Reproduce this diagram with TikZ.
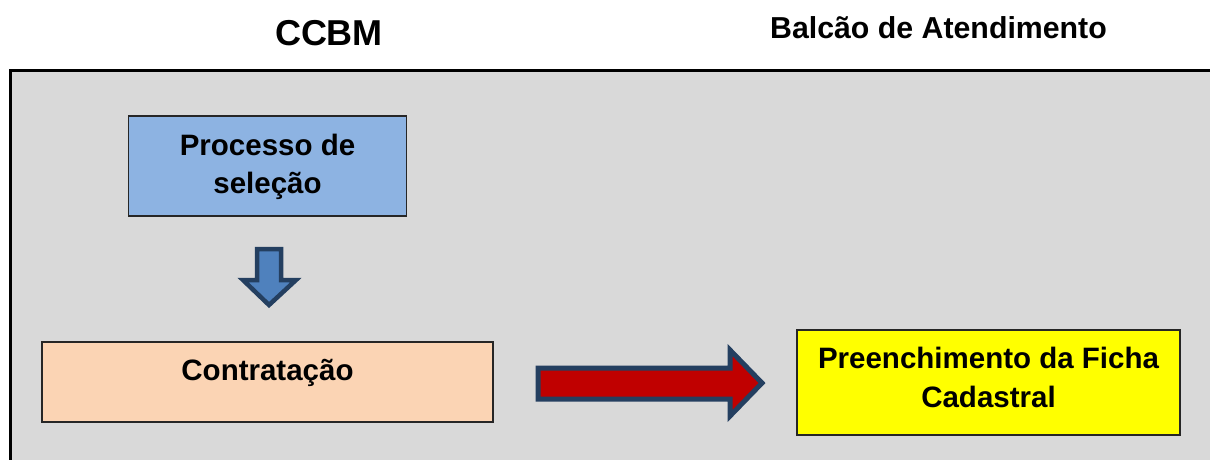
\documentclass[tikz,border=0pt]{standalone}
\usepackage{fontspec}
\setmainfont{Liberation Sans}
\usetikzlibrary{calc}
\definecolor{panelgray}{HTML}{D9D9D9}
\definecolor{selblue}{HTML}{8DB3E2}
\definecolor{peach}{HTML}{FBD4B4}
\definecolor{fichayellow}{HTML}{FFFF00}
\definecolor{arrowblue}{HTML}{4F81BD}
\definecolor{arrowred}{HTML}{C00000}
\definecolor{navy}{HTML}{243F60}
\tikzset{
  stepbox/.style={draw=black!85, line width=1.2pt, rectangle, inner sep=0pt},
  boxtext/.style={font=\fontsize{29.5}{38.5}\selectfont\bfseries, align=center, inner sep=0pt, anchor=base},
  heading/.style={font=\bfseries, inner sep=0pt, anchor=base},
  blockarrow/.style={draw=navy, line join=miter, miter limit=10},
}
\begin{document}
\begin{tikzpicture}[x=1pt, y=-1pt]
  \useasboundingbox[fill=white] (0,0) rectangle (1210,459);

  % column headings
  \node[heading, font=\fontsize{36}{40}\selectfont\bfseries] (hccbm) at (329,45) {CCBM};
  \node[heading, font=\fontsize{30.3}{34}\selectfont\bfseries] (hbalcao) at (938.5,38.5) {Balcão de Atendimento};

  % gray panel (runs off the right and bottom edges)
  \begin{scope}
    \clip (0,0) rectangle (1210,459);
    \draw[fill=panelgray, line width=2.4pt] (10.5,470) -- (10.5,70.5) -- (1220,70.5) -- (1220,470) -- cycle;
  \end{scope}

  % process boxes
  \node[stepbox, fill=selblue, minimum width=278pt, minimum height=100pt] (proc) at (267.5,166) {};
  \node[stepbox, fill=peach, minimum width=451pt, minimum height=80pt] (contr) at (267.5,382) {};
  \node[stepbox, fill=fichayellow, minimum width=383pt, minimum height=105pt] (ficha) at (988.5,382.5) {};

  % box labels (base anchor sits on the last line)
  \node[boxtext] (proctxt) at (267.5,193.5) {Processo de\\seleção};
  \node[boxtext] (contrtxt) at (267.5,380) {Contratação};
  \node[boxtext] (fichatxt) at (988.5,407) {Preenchimento da Ficha\\Cadastral};

  % block arrows
  \coordinate (dtop) at (269,249);
  \coordinate (dtip) at (269,305);
  \draw[blockarrow, fill=arrowblue, line width=4.5pt]
    ($(dtop)+(-12,0)$) -- ($(dtop)+(12,0)$) -- ($(dtop)+(12,31)$) -- ($(dtop)+(27,31)$)
    -- (dtip) -- ($(dtop)+(-26,31)$) -- ($(dtop)+(-12,31)$) -- cycle;

  \coordinate (rtail) at (538,383.5);
  \coordinate (rtip) at (762,383);
  \draw[blockarrow, fill=arrowred, line width=5pt]
    ($(rtail)+(0,-15.5)$) -- ($(rtail)+(192,-15.5)$) -- ($(rtail)+(192,-33.5)$)
    -- (rtip) -- ($(rtail)+(192,32.5)$) -- ($(rtail)+(192,15.5)$) -- ($(rtail)+(0,15.5)$) -- cycle;
\end{tikzpicture}
\end{document}
